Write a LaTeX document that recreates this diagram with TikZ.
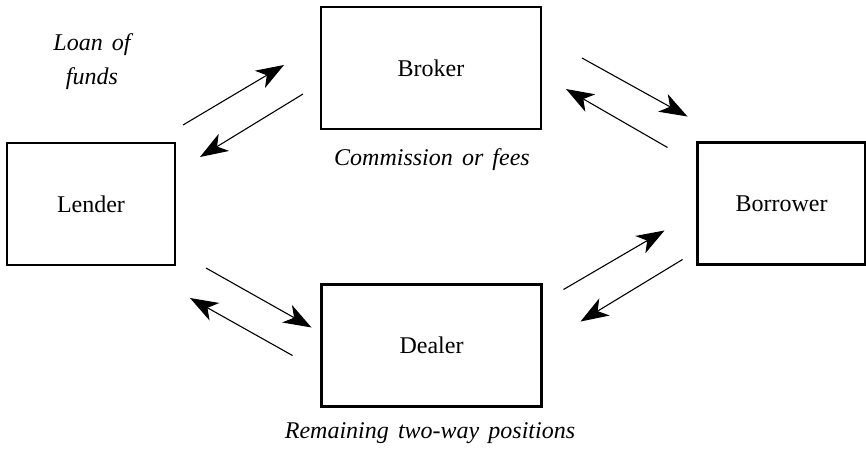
\documentclass[tikz,border=0pt]{standalone}
\usepackage{fontspec}
\setmainfont{Liberation Serif}
\usepackage{tikz}
\usetikzlibrary{arrows.meta}
\usetikzlibrary{positioning}
\newcommand{\widespace}{\spaceskip=0.38em plus 0.1em\relax}

\begin{document}
\begin{tikzpicture}[
  x=0.5pt, y=-0.5pt,
  every node/.style={font=\fontsize{12}{14.5}\selectfont},
  party/.style={rectangle, draw, line width=1.2pt, outer sep=0pt, minimum width=84pt, minimum height=61pt},
  agent/.style={party, minimum width=110pt},
  note/.style={font=\fontsize{12}{17}\selectfont\itshape\widespace, align=center},
  flow/.style={-{Stealth[length=14pt, width=10pt, inset=4pt]}, line width=0.55pt}
]
\useasboundingbox (0,0) rectangle (866,450);

% Boxes
\node[party] (lender)   at (91,204)    {Lender};
\node[party] (borrower) at (781.5,203.5) {Borrower};
\node[agent] (broker)   at (431,68)    {Broker};
\node[agent] (dealer)   at (431.5,345.5) {Dealer};

% Labels
\node[note] (loan) at (92,62)  {Loan of\\funds};
\node[note] (fees) at (432,160) {Commission or fees};
\node[note] (pos)  at (430,433) {Remaining two-way positions};

% Lender -- Broker
\draw[flow] ([shift={(8,-18)}]lender.north east) -- ([shift={(-37,-64)}]broker.south west);
\draw[flow] ([shift={(-18,-35)}]broker.south west) -- ([shift={(25,14)}]lender.north east);

% Broker -- Borrower
\draw[flow] ([shift={(41,-10)}]broker.east) -- ([shift={(-10,-26)}]borrower.north west);
\draw[flow] ([shift={(-30,5)}]borrower.north west) -- ([shift={(25,21)}]broker.east);

% Lender -- Dealer
\draw[flow] ([shift={(31,3)}]lender.south east) -- ([shift={(-10,-18)}]dealer.west);
\draw[flow] ([shift={(-29,10)}]dealer.west) -- ([shift={(15,33)}]lender.south east);

% Dealer -- Borrower
\draw[flow] ([shift={(22,5)}]dealer.north east) -- ([shift={(-33,-34)}]borrower.south west);
\draw[flow] ([shift={(-15,-5)}]borrower.south west) -- ([shift={(39,37)}]dealer.north east);
\end{tikzpicture}
\end{document}
